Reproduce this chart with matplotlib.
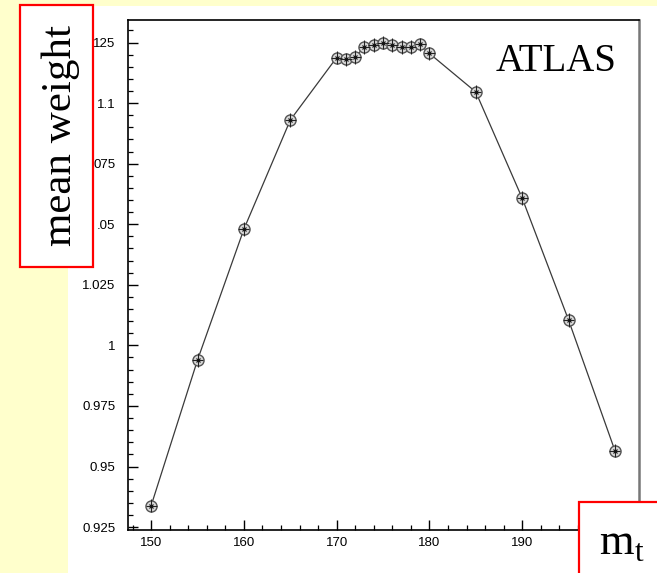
import matplotlib
matplotlib.use('Agg')
import matplotlib.pyplot as plt
from matplotlib.patches import Rectangle
from matplotlib.ticker import MultipleLocator, FixedLocator

# top mass points and mean weight
mass = [150, 155, 160, 165, 170, 171, 172, 173, 174, 175, 176, 177, 178, 179, 180,
        185, 190, 195, 200]
mean_weight = [0.9339, 0.9940, 1.0480, 1.0930, 1.1188, 1.1180, 1.1191, 1.1232, 1.1239,
               1.1250, 1.1239, 1.1232, 1.1232, 1.1242, 1.1205, 1.1046, 1.0608, 1.0105,
               0.9566]
x_err = 0.6
y_err = 0.0028

y_ticks = [0.925, 0.95, 0.975, 1.0, 1.025, 1.05, 1.075, 1.1, 1.125]
y_labels = ['0.925', '0.95', '0.975', '1', '1.025', '.05', '075', '1.1', '125']
x_ticks = [150, 160, 170, 180, 190, 200]
x_labels = ['150', '160', '170', '180', '190', '']   # 200 sits under the m_t box

W, H = 657, 573
plt.rcParams['mathtext.fontset'] = 'custom'
plt.rcParams['mathtext.rm'] = 'Liberation Serif'

fig = plt.figure(figsize=(W / 100, H / 100), dpi=100, facecolor='#FFFFCC')

# white slide area behind the plot
fig.patches.append(Rectangle((68 / W, 0), 1 - 68 / W, (H - 6) / H, transform=fig.transFigure,
                             facecolor='white', edgecolor='none', zorder=-5))

ax = fig.add_axes([128 / W, (H - 530) / H, (639 - 128) / W, (530 - 20) / H])
ax.set_facecolor('white')

ax.plot(mass, mean_weight, '-', color='#3a3a3a', lw=0.9, zorder=2)
ax.plot(mass, mean_weight, 'o', ms=8, mfc='#d8d8d8', mec='#555555', mew=1.0, zorder=3)
ax.errorbar(mass, mean_weight, xerr=x_err, yerr=y_err, fmt='none', ecolor='#222222',
            elinewidth=0.8, capsize=0, zorder=4)
ax.plot(mass, mean_weight, 'x', ms=3.5, color='#111111', mew=0.8, zorder=5)

ax.set_xlim(147.5, 202.6)
ax.set_ylim(0.9238, 1.1343)

ax.yaxis.set_major_locator(FixedLocator(y_ticks))
ax.set_yticklabels(y_labels)
ax.yaxis.set_minor_locator(MultipleLocator(0.005))
ax.xaxis.set_major_locator(FixedLocator(x_ticks))
ax.set_xticklabels(x_labels)
ax.xaxis.set_minor_locator(MultipleLocator(2))

ax.tick_params(axis='both', which='both', direction='in', top=False, right=False,
               labelsize=9.5, colors='black')
ax.tick_params(axis='both', which='major', length=7, width=1.0)
ax.tick_params(axis='both', which='minor', length=3.8, width=0.9)
ax.tick_params(axis='y', pad=9)
ax.tick_params(axis='x', pad=5)
for lab in ax.get_xticklabels() + ax.get_yticklabels():
    lab.set_fontfamily('Liberation Sans')

for side in ['left', 'bottom', 'top']:
    ax.spines[side].set_linewidth(1.2)
    ax.spines[side].set_color('black')
ax.spines['right'].set_linewidth(1.8)
ax.spines['right'].set_color('#777777')

ax.text(0.955, 0.955, 'ATLAS', transform=ax.transAxes, ha='right', va='top',
        fontsize=28, family='Liberation Serif')

# red label boxes drawn over the axes
fig.patches.append(Rectangle((20 / W, (H - 267) / H), 73 / W, 262 / H, transform=fig.transFigure,
                             facecolor='white', edgecolor='red', lw=1.6, zorder=10))
fig.text(61 / W, (H - 135) / H, 'mean weight', rotation=90, ha='center', va='center',
         fontsize=31, family='Liberation Serif', zorder=11)

fig.patches.append(Rectangle((579 / W, -0.01), (W - 579) / W + 0.01, (H - 502) / H + 0.01,
                             transform=fig.transFigure, facecolor='white', edgecolor='red',
                             lw=1.6, zorder=10))
fig.text(622 / W, (H - 555) / H, r'm$_{\mathrm{t}}$', ha='center', va='baseline',
         fontsize=32, family='Liberation Serif', zorder=11)

fig.savefig('out.png', dpi=100, facecolor=fig.get_facecolor())
